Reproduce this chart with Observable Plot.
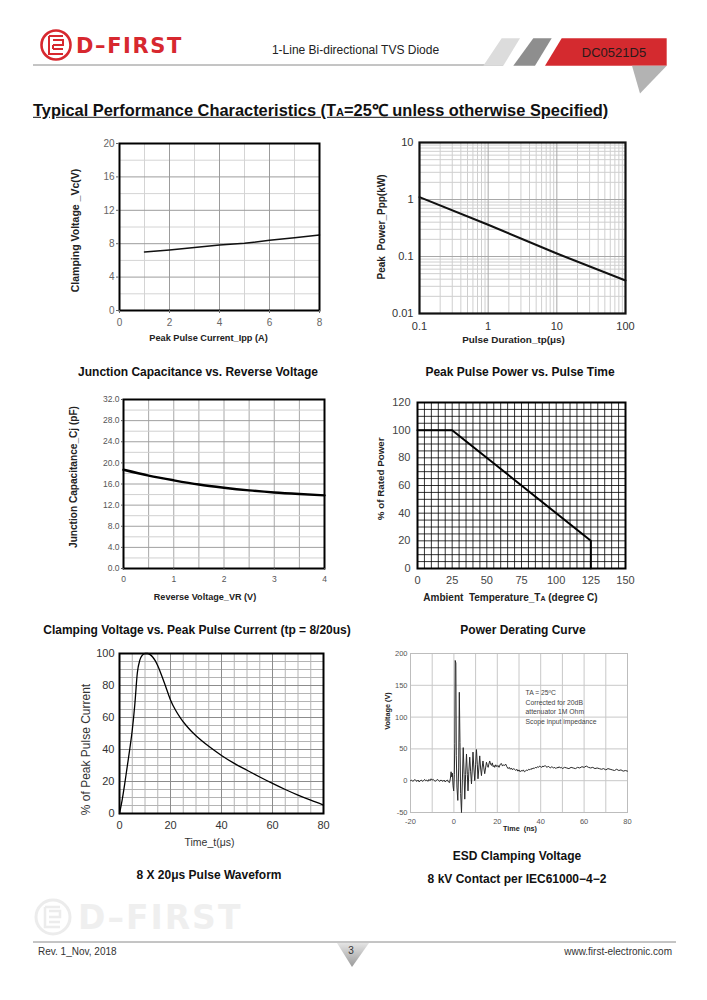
<!DOCTYPE html>
<html><head><meta charset="utf-8">
<script src="https://cdn.jsdelivr.net/npm/d3@7"></script>
<script src="https://cdn.jsdelivr.net/npm/@observablehq/plot@0.6"></script>
<style>
body{margin:0;background:#fff;}
#page{position:relative;width:707px;height:1000px;overflow:hidden;font-family:"Liberation Sans",Arial,Helvetica,sans-serif;color:#000;background:#fff;}
.t{position:absolute;white-space:nowrap;line-height:1;}
</style></head><body><div id="page"></div>
<script>
// ---------- data ----------
const vcCurrent = [1, 2, 3, 4, 5, 6, 7, 8];
const vcVoltage = [7.0, 7.25, 7.55, 7.85, 8.05, 8.4, 8.7, 9.05];
const vcTicksX = [0, 2, 4, 6, 8];
const vcTicksY = [0, 4, 8, 12, 16, 20];

const ppDuration = [0.1, 1, 10, 100];
const ppPower = [1.1, 0.36, 0.113, 0.038];
const ppTicksX = [0.1, 1, 10, 100];
const ppTicksY = [0.01, 0.1, 1, 10];

const cjVoltage = [0, 0.5, 1, 1.5, 2, 2.5, 3, 3.5, 4];
const cjCap = [18.7, 17.6, 16.7, 15.9, 15.3, 14.8, 14.4, 14.1, 13.85];
const cjTicksX = [0, 1, 2, 3, 4];
const cjTicksY = [0, 4, 8, 12, 16, 20, 24, 28, 32];

const derTemp = [0, 25, 125, 125];
const derPower = [100, 100, 20, 0];
const derTicksX = [0, 25, 50, 75, 100, 125, 150];
const derTicksY = [0, 20, 40, 60, 80, 100, 120];

const wfTime = [0, 1, 2, 3, 4, 5, 6, 7, 8, 9, 10, 11, 12, 13, 14, 15, 16, 17, 18, 19, 20, 22, 24, 26, 28, 30, 35, 40, 45, 50, 55, 60, 65, 70, 75, 80];
const wfPct  = [0, 8, 18, 29, 40, 52, 68, 88, 96, 99, 100, 100, 99.3, 97.8, 95.5, 92.3, 88.5, 84.2, 79.8, 75.3, 71, 64.5, 59.5, 55.3, 51.7, 48.6, 42, 36.3, 31.3, 27, 22.8, 18.8, 15, 11.5, 8.3, 5.3];
const wfTicksX = [0, 20, 40, 60, 80];
const wfTicksY = [0, 20, 40, 60, 80, 100];

// ESD waveform samples: [time ns, voltage V]
const esdSamples = [
 [-20,0],[-19.5,1],[-19,-1],[-18.5,0],[-18,2],[-17.5,0],[-17,-1],[-16.5,1],[-16,-2],[-15.5,0],[-15,1],[-14.5,-1],[-14,0],[-13.5,2],[-13,0],[-12.5,1],[-12,-1],[-11.5,2],[-11,0],[-10.5,3],[-10,1],[-9.5,2],[-9,0],[-8.5,-1],[-8,1],[-7.5,2],[-7,0],[-6.5,-1],[-6,1],[-5.5,0],[-5,-1],[-4.5,1],[-4,-2],[-3.5,0],[-3,1],[-2.5,-2],[-2,-3],
 [-1.6,4],[-1.3,14],[-1.0,6],[-0.7,12],[-0.4,-8],[-0.1,-16],[0.2,10],[0.4,58],[0.6,189],[0.9,185],[1.1,40],[1.4,-10],[1.8,-31],[2.2,20],[2.5,139],[2.8,60],[3.1,-20],[3.5,-50],[3.9,0],[4.3,52],[4.7,10],[5.0,-29],[5.4,10],[5.8,42],[6.2,10],[6.5,-16],[6.9,15],[7.3,37],[7.7,15],[8.1,-5],[8.5,20],[8.8,45],[9.2,20],[9.6,0],[10.0,25],[10.4,49],[10.8,25],[11.1,3],[11.5,20],[11.9,39],[12.3,20],[12.7,8],[13.0,20],[13.4,31],[13.8,20],[14.2,11],[14.6,20],[15.0,29],[15.4,24],[15.8,21],[16.1,26],[16.5,31],[16.9,26],[17.3,24],[17.7,28],[18.1,22],[18.5,24],[18.8,21],[19.3,25],[19.8,22],[20.3,24],[20.8,21],[21.4,26],[21.9,27],[22.4,23],[22.9,25],[23.4,24],[23.9,26],[24.4,22],
 [25,19],[25.5,21],[26,18],[26.5,20],[27,17],[27.5,19],[28,18],[28.5,16],[29,18],[29.5,15],[30,17],[30.5,14],[31,16],[31.5,15],[32,17],[32.5,14],[33,15],[33.5,17],[34,16],[34.5,18],[35,17],[35.5,19],[36,18],[36.5,20],[37,19],[37.5,21],[38,20],[38.5,22],[39,21],[39.5,23],[40,22],[40.5,21],[41,23],[41.5,22],[42,24],[42.5,22],[43,21],[43.5,23],[44,21],[44.5,20],[45,22],[45.5,21],[46,20],[46.5,21],[47,19],[47.5,21],[48,20],[48.5,22],[49,20],[49.5,21],[50,19],[51,21],[52,20],[53,19],[54,21],[55,20],[56,19],[57,21],[58,20],[59,22],[60,21],[61,23],[62,21],[63,20],[64,21],[65,19],[66,20],[67,19],[68,18],[69,19],[70,17],[71,19],[72,18],[73,17],[74,16],[75,18],[76,16],[77,17],[78,15],[79,16],[80,15]
];
const esdTicksX = [-20, 0, 20, 40, 60, 80];
const esdTicksY = [-50, 0, 50, 100, 150, 200];

// ---------- helpers ----------
const page = document.getElementById("page");
const FONT = '"Liberation Sans", Arial, Helvetica, sans-serif';
function txt(html, x, y, css, anchor) {
  const d = document.createElement("div");
  d.className = "t";
  d.innerHTML = html;
  d.style.left = x + "px";
  d.style.top = y + "px";
  const tx = anchor === "left" ? "0" : anchor === "right" ? "-100%" : "-50%";
  d.style.transform = `translate(${tx},-50%)`;
  Object.assign(d.style, css || {});
  page.appendChild(d);
  return d;
}
function put(svg, left, top) {
  svg.style.position = "absolute";
  svg.style.left = left + "px";
  svg.style.top = top + "px";
  page.appendChild(svg);
  return svg;
}
const baseStyle = {fontFamily: FONT, background: "transparent", overflow: "visible"};
const num = d => String(d);
function yTitle(text, dx, dy, o) {
  return Plot.text([text], {text: d => d, frameAnchor: "left", textAnchor: "middle", lineAnchor: "middle", rotate: -90, dx, dy, fontWeight: "bold", fontSize: 10, fill: "#222", ...o});
}
function xTitle(text, dx, dy, o) {
  return Plot.text([text], {text: d => d, frameAnchor: "bottom", textAnchor: "middle", lineAnchor: "middle", dx, dy, fontWeight: "bold", fontSize: 9, fill: "#222", ...o});
}
const zip = (xs, ys) => xs.map((x, i) => ({x, y: ys[i]}));

// ---------- chart 1: clamping voltage ----------
put(Plot.plot({
  width: 280, height: 220, marginLeft: 59, marginRight: 21, marginTop: 13, marginBottom: 40,
  style: baseStyle,
  x: {domain: [0, 8], label: null}, y: {domain: [0, 20], label: null},
  marks: [
    Plot.ruleX(d3.range(1, 8, 2), {stroke: "#d4d4d4"}),
    Plot.ruleY(d3.range(2, 20, 4), {stroke: "#d4d4d4"}),
    Plot.ruleX([2, 4, 6], {stroke: "#9c9c9c"}),
    Plot.ruleY([4, 8, 12, 16], {stroke: "#9c9c9c"}),
    Plot.line(zip(vcCurrent, vcVoltage), {x: "x", y: "y", stroke: "#111", strokeWidth: 1.5}),
    Plot.frame({stroke: "#000", strokeWidth: 2}),
    Plot.axisX({ticks: vcTicksX, tickSize: 3, tickPadding: 5, fontSize: 10, color: "#666", tickFormat: num, label: null}),
    Plot.axisY({ticks: vcTicksY, tickSize: 3, tickPadding: 2, fontSize: 10, color: "#666", tickFormat: num, label: null}),
    yTitle("Clamping Voltage _Vc(V)", -44, 3.5, {fontSize: 10.5}),
    xTitle("Peak Pulse Current_Ipp (A)", -11, 28, {fontSize: 9.2})
  ]
}), 60, 130);

// ---------- chart 2: peak pulse power (log-log) ----------
const logMinor = (lo, hi) => { const v = []; for (let e = lo; e < hi; e++) for (let k = 2; k <= 9; k++) v.push(k * Math.pow(10, e)); return v; };
put(Plot.plot({
  width: 300, height: 220, marginLeft: 59, marginRight: 35, marginTop: 12, marginBottom: 37,
  style: baseStyle,
  x: {type: "log", domain: [0.1, 100], label: null}, y: {type: "log", domain: [0.01, 10], label: null},
  marks: [
    Plot.ruleX(logMinor(-1, 2), {stroke: "#cfcfcf"}),
    Plot.ruleY(logMinor(-2, 1), {stroke: "#cfcfcf"}),
    Plot.ruleX([1, 10], {stroke: "#a8a8a8"}),
    Plot.ruleY([0.1, 1], {stroke: "#a8a8a8"}),
    Plot.line(zip(ppDuration, ppPower), {x: "x", y: "y", stroke: "#111", strokeWidth: 2}),
    Plot.frame({stroke: "#111", strokeWidth: 2.2}),
    Plot.axisX({ticks: ppTicksX, tickSize: 0, tickPadding: 9, fontSize: 11, color: "#333", tickFormat: num, label: null}),
    Plot.axisY({ticks: ppTicksY, tickSize: 0, tickPadding: 6, fontSize: 11, color: "#333", tickFormat: num, label: null}),
    yTitle("Peak\u00a0\u00a0Power_Ppp(kW)", -38, -1, {fontSize: 10}),
    xTitle("Pulse Duration_tp(\u03bcs)", -9, 26.7, {fontSize: 9.9})
  ]
}), 360, 130);

// ---------- chart 3: junction capacitance ----------
put(Plot.plot({
  width: 280, height: 250, marginLeft: 63, marginRight: 16, marginTop: 39, marginBottom: 42,
  style: baseStyle,
  x: {domain: [0, 4], label: null}, y: {domain: [0, 32], label: null},
  marks: [
    Plot.ruleX(d3.range(0.5, 4, 0.5), {stroke: "#a8a8a8"}),
    Plot.ruleY(d3.range(2, 32, 4), {stroke: "#d0d0d0"}),
    Plot.ruleY(d3.range(4, 32, 4), {stroke: "#a0a0a0"}),
    Plot.line(zip(cjVoltage, cjCap), {x: "x", y: "y", curve: "monotone-x", stroke: "#000", strokeWidth: 2.4}),
    Plot.frame({stroke: "#000", strokeWidth: 2}),
    Plot.axisX({ticks: cjTicksX, tickSize: 2, tickPadding: 5, fontSize: 8.5, color: "#555", tickFormat: num, label: null}),
    Plot.axisY({ticks: cjTicksY, tickSize: 2, tickPadding: 2, fontSize: 8.5, color: "#555", tickFormat: d => d.toFixed(1), label: null}),
    yTitle("Junction Capacitance_Cj (pF)", -49.4, -7, {fontSize: 10.1}),
    xTitle("Reverse Voltage_VR (V)", -19, 28.7, {fontSize: 9.1})
  ]
}), 60, 360);

// ---------- chart 4: power derating ----------
const c4 = put(Plot.plot({
  width: 300, height: 250, marginLeft: 57, marginRight: 35, marginTop: 42, marginBottom: 42,
  style: baseStyle,
  x: {domain: [0, 150], label: null}, y: {domain: [0, 120], label: null},
  marks: [
    Plot.ruleX(d3.range(5, 150, 5), {stroke: "#000", strokeWidth: 0.8}),
    Plot.ruleY(d3.range(5, 120, 5), {stroke: "#000", strokeWidth: 0.8}),
    Plot.line(zip(derTemp, derPower), {x: "x", y: "y", stroke: "#000", strokeWidth: 2}),
    Plot.frame({stroke: "#000", strokeWidth: 2}),
    Plot.axisX({ticks: derTicksX, tickSize: 0, tickPadding: 8, fontSize: 11, color: "#444", tickFormat: num, label: null}),
    Plot.axisY({ticks: derTicksY, tickSize: 0, tickPadding: 7, fontSize: 11, color: "#444", tickFormat: num, label: null}),
    yTitle("% of Rated Power", -36.7, -6.7, {fontSize: 9.8}),
    xTitle("Ambient\u00a0\u00a0Temperature_TA (degree C)", -11, 29.7, {fontSize: 10})
  ]
}), 360, 360);
// subscript A in T_A
c4.querySelectorAll("text").forEach(t => {
  if (t.textContent.startsWith("Ambient")) {
    t.innerHTML = "Ambient\u00a0\u00a0Temperature_T<tspan font-size=\"7\">A</tspan> (degree C)";
  }
});

// ---------- chart 5: 8x20 waveform ----------
put(Plot.plot({
  width: 280, height: 240, marginLeft: 59, marginRight: 17, marginTop: 33, marginBottom: 47,
  style: baseStyle,
  x: {domain: [0, 80], label: null}, y: {domain: [0, 100], label: null},
  marks: [
    Plot.ruleX(d3.range(5, 80, 5), {stroke: "#b4b4b4"}),
    Plot.ruleY(d3.range(5, 100, 5), {stroke: "#b4b4b4"}),
    Plot.ruleX([20, 40, 60], {stroke: "#8c8c8c"}),
    Plot.ruleY([20, 40, 60, 80], {stroke: "#8c8c8c"}),
    Plot.line(zip(wfTime, wfPct), {x: "x", y: "y", curve: "monotone-x", stroke: "#000", strokeWidth: 1.3}),
    Plot.frame({stroke: "#000", strokeWidth: 2}),
    Plot.axisX({ticks: wfTicksX, tickSize: 0, tickPadding: 8, fontSize: 11, color: "#333", tickFormat: num, label: null}),
    Plot.axisY({ticks: wfTicksY, tickSize: 0, tickPadding: 5, fontSize: 11, color: "#333", tickFormat: num, label: null}),
    yTitle("% of Peak Pulse Current", -33.7, 16, {fontSize: 12, fontWeight: "normal", fill: "#333"}),
    xTitle("Time_t(\u03bcs)", -12, 29, {fontSize: 10.5, fontWeight: "normal", fill: "#333"})
  ]
}), 60, 620);

// ---------- chart 6: ESD clamping ----------
put(Plot.plot({
  width: 300, height: 230, marginLeft: 50, marginRight: 33, marginTop: 33, marginBottom: 38,
  style: baseStyle,
  x: {domain: [-20, 80], label: null}, y: {domain: [-50, 200], label: null},
  marks: [
    Plot.ruleX(d3.range(-10, 80, 10), {stroke: "#c8c8c8"}),
    Plot.ruleY(d3.range(0, 200, 50), {stroke: "#c8c8c8"}),
    Plot.frame({stroke: "#bdbdbd", strokeWidth: 1}),
    Plot.line(esdSamples, {x: d => d[0], y: d => d[1], stroke: "#2a2a2a", strokeWidth: 1}),
    Plot.axisX({ticks: esdTicksX, tickSize: 0, tickPadding: 6, fontSize: 7.5, color: "#555", tickFormat: num, label: null}),
    Plot.axisY({ticks: esdTicksY, tickSize: 0, tickPadding: 3, fontSize: 7.5, color: "#555", tickFormat: num, label: null}),
    yTitle("Voltage (V)", -23.3, -22, {fontSize: 7.3}),
    xTitle("Time\u00a0\u00a0(ns)", 1, 16, {fontSize: 7.2}),
    Plot.text(["TA = 25\u00baC\nCorrected for 20dB\nattenuator 1M Ohm\nScope input impedance"], {
      text: d => d, frameAnchor: "top-left", textAnchor: "start", lineAnchor: "top",
      dx: 115, dy: 34.7, fontSize: 6.8, lineHeight: 1.41, fill: "#444"})
  ]
}), 360, 620);

// ---------- page furniture ----------
const ns = "http://www.w3.org/2000/svg";
function deco(w, h, left, top, inner) {
  const s = document.createElementNS(ns, "svg");
  s.setAttribute("width", w); s.setAttribute("height", h);
  s.style.position = "absolute"; s.style.left = left + "px"; s.style.top = top + "px";
  s.innerHTML = inner;
  page.appendChild(s);
  return s;
}
deco(707, 120, 0, 0, `
  <circle cx="56" cy="45" r="14.5" fill="none" stroke="#d7282f" stroke-width="2.6"/>
  <path d="M49 36 h14 M49 36 v18 h14 M53 40 h10 v5 h-10 M53 49 h10 M53 45 v4" fill="none" stroke="#d7282f" stroke-width="2"/>
  <line x1="33" y1="65" x2="503" y2="65" stroke="#8a8a8a" stroke-width="1"/>
  <polygon points="501.7,38.3 520,38.3 503.3,65.7 483.3,65.7" fill="#dcdcdc"/>
  <polygon points="533.3,38.3 551.7,38.3 535,65.7 513.3,65.7" fill="#8e8e8e"/>
  <polygon points="561.7,38.3 666.7,38.3 666.7,65.7 545,65.7" fill="#d42a2f"/>
  <polygon points="632,65.7 666.7,65.7 640,93.5" fill="#b3b3b3"/>
`);
txt("D\u2013FIRST", 76, 46, {fontFamily: '"DejaVu Sans", sans-serif', fontWeight: "bold", fontSize: "21px", letterSpacing: "1.6px", color: "#d7282f"}, "left");
txt("1-Line Bi-directional TVS Diode", 355.5, 50, {fontSize: "12px", color: "#222"});
txt("DC0521D5", 614, 52, {fontSize: "13px", color: "#2a1a1a"});

// section title
txt("Typical Performance Characteristics (T<span style=\"font-size:11px\">A</span>=25\u2103 unless otherwise Specified)", 33, 110,
  {fontSize: "16.4px", fontWeight: "bold", textDecoration: "underline", color: "#111"}, "left");

// chart titles / captions
const cap = {fontSize: "12px", fontWeight: "bold", color: "#111"};
txt("Junction Capacitance vs. Reverse Voltage", 198, 372, cap);
txt("Peak Pulse Power vs. Pulse Time", 520, 372, cap);
txt("Clamping Voltage vs. Peak Pulse Current (tp = 8/20us)", 197, 630, cap);
txt("Power Derating Curve", 523, 630, cap);
txt("8 X 20\u03bcs Pulse Waveform", 209, 875, cap);
txt("ESD Clamping Voltage", 517, 856, cap);
txt("8 kV Contact per IEC61000\u22124\u22122", 517, 879, cap);

// footer
deco(707, 1000, 0, 0, `
  <circle cx="53" cy="917" r="17" fill="none" stroke="#ececec" stroke-width="3"/>
  <path d="M45 907 h15 M45 907 v20 h15 M49 911 h11 v6 h-11 M49 922 h11" fill="none" stroke="#ececec" stroke-width="2.5"/>
  <line x1="33" y1="942" x2="676" y2="942" stroke="#8a8a8a" stroke-width="1"/>
  <defs><linearGradient id="tg" x1="0" y1="0" x2="0" y2="1"><stop offset="0" stop-color="#e4e4e4"/><stop offset="1" stop-color="#9a9a9a"/></linearGradient></defs>
  <polygon points="337,943 369,943 352,967" fill="url(#tg)"/>
`);
txt("D\u2013FIRST", 78, 917, {fontFamily: '"DejaVu Sans", sans-serif', fontWeight: "bold", fontSize: "33px", letterSpacing: "2px", color: "#efefef"}, "left");
txt("Rev. 1_Nov, 2018", 38, 952, {fontSize: "10px", color: "#333"}, "left");
txt("3", 351, 951, {fontSize: "10px", color: "#333"});
txt("www.first-electronic.com", 672, 952, {fontSize: "10px", color: "#333"}, "right");
</script></body></html>
